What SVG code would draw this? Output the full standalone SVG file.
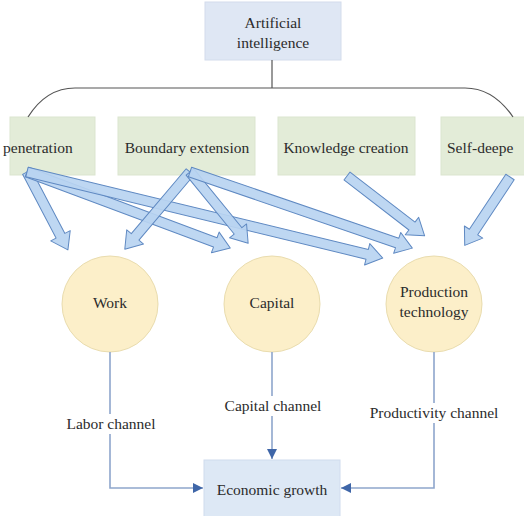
<svg xmlns="http://www.w3.org/2000/svg" width="524" height="516" viewBox="0 0 524 516">
  <style>
    text { font-family: "Liberation Serif", "Times New Roman", serif; font-size: 15.5px; fill: #2b2b2b; }
    .mid { text-anchor: middle; }
    .top { fill: #dfe7f4; stroke: #d3dcec; stroke-width: 1; }
    .mech { fill: #e3ecd8; stroke: #dbe5cf; stroke-width: 1; }
    .factor { fill: #fcefc9; stroke: #e9dcae; stroke-width: 1; }
    .goal { fill: #dde8f5; stroke: #d0dcee; stroke-width: 1; }
    .bracket { fill: none; stroke: #555; stroke-width: 1.2; }
    .channel { fill: none; stroke: #8ea6cc; stroke-width: 1.6; }
    .block { fill: #b9d4f1; fill-opacity: 0.92; stroke: #5f89c2; stroke-width: 1; stroke-linejoin: round; }
    .label-bg { fill: #fff; }
  </style>
  <defs>
    <marker id="tip" viewBox="0 0 10 10" refX="10" refY="5" markerWidth="6.5" markerHeight="6.5" orient="auto" markerUnits="strokeWidth">
      <path d="M0,0 L10,5 L0,10 Z" fill="#3f66a8"/>
    </marker>
  </defs>

  <rect width="524" height="516" fill="#fff"/>

  <!-- top node -->
  <g id="artificial-intelligence">
    <rect class="top" x="205" y="2" width="136" height="58"/>
    <text class="mid" x="273" y="28">Artificial</text>
    <text class="mid" x="273" y="48">intelligence</text>
  </g>

  <!-- mechanism nodes -->
  <g id="penetration">
    <rect class="mech" x="10" y="117" width="85" height="58"/>
    <text x="3" y="153">penetration</text>
  </g>
  <g id="boundary-extension">
    <rect class="mech" x="118" y="117" width="137" height="58"/>
    <text class="mid" x="187" y="153">Boundary extension</text>
  </g>
  <g id="knowledge-creation">
    <rect class="mech" x="278" y="117" width="137" height="58"/>
    <text class="mid" x="346" y="153">Knowledge creation</text>
  </g>
  <g id="self-deepening">
    <rect class="mech" x="441" y="117" width="90" height="58"/>
    <text x="447" y="153">Self-deepe</text>
  </g>

  <!-- production factors -->
  <g id="work">
    <circle class="factor" cx="110" cy="304" r="48"/>
    <text class="mid" x="110" y="308">Work</text>
  </g>
  <g id="capital">
    <circle class="factor" cx="272" cy="304" r="48"/>
    <text class="mid" x="272" y="308">Capital</text>
  </g>
  <g id="production-technology">
    <circle class="factor" cx="434" cy="304" r="48"/>
    <text class="mid" x="434" y="297">Production</text>
    <text class="mid" x="434" y="317">technology</text>
  </g>

  <!-- outcome -->
  <g id="economic-growth">
    <rect class="goal" x="204" y="460" width="136" height="60"/>
    <text class="mid" x="272" y="495">Economic growth</text>
  </g>

  <g id="connectors">
    <!-- bracket from AI to mechanisms -->
    <path class="bracket" d="M272,60 V88"/>
    <path class="bracket" d="M28,117 C40,98 55,88 75,88 H465 C485,88 500,98 513,117"/>

    <!-- block arrows: local frame, tail at origin pointing along +x -->
    <g transform="translate(27,172) rotate(62.3)">
      <polygon class="block" points="0,-5 72,-5 72,-11 88,0 72,11 72,5 0,5"/>
    </g>
    <g transform="translate(27,172) rotate(20.5)">
      <polygon class="block" points="0,-5 201,-5 201,-11 217,0 201,11 201,5 0,5"/>
    </g>
    <g transform="translate(27,172) rotate(13.6)">
      <polygon class="block" points="0,-5 350,-5 350,-11 366,0 350,11 350,5 0,5"/>
    </g>
    <g transform="translate(190,172) rotate(130.2)">
      <polygon class="block" points="0,-5 85,-5 85,-11 101,0 85,11 85,5 0,5"/>
    </g>
    <g transform="translate(190,172) rotate(50.8)">
      <polygon class="block" points="0,-5 76,-5 76,-11 92,0 76,11 76,5 0,5"/>
    </g>
    <g transform="translate(190,172) rotate(18.9)">
      <polygon class="block" points="0,-5 219,-5 219,-11 235,0 219,11 219,5 0,5"/>
    </g>
    <g transform="translate(347,176) rotate(37.6)">
      <polygon class="block" points="0,-5 82,-5 82,-11 98,0 82,11 82,5 0,5"/>
    </g>
    <g transform="translate(510,177) rotate(123.5)">
      <polygon class="block" points="0,-5 66,-5 66,-11 82,0 66,11 66,5 0,5"/>
    </g>

    <!-- channels into economic growth -->
    <path class="channel" d="M110,352 V488 H203" marker-end="url(#tip)"/>
    <path class="channel" d="M272,352 V459" marker-end="url(#tip)"/>
    <path class="channel" d="M434,352 V488 H341" marker-end="url(#tip)"/>

    <rect class="label-bg" x="62" y="414" width="98" height="20"/>
    <text class="mid" x="111" y="429">Labor channel</text>
    <rect class="label-bg" x="221" y="396" width="104" height="20"/>
    <text class="mid" x="273" y="411">Capital channel</text>
    <rect class="label-bg" x="365" y="403" width="138" height="20"/>
    <text class="mid" x="434" y="418">Productivity channel</text>
  </g>
</svg>
